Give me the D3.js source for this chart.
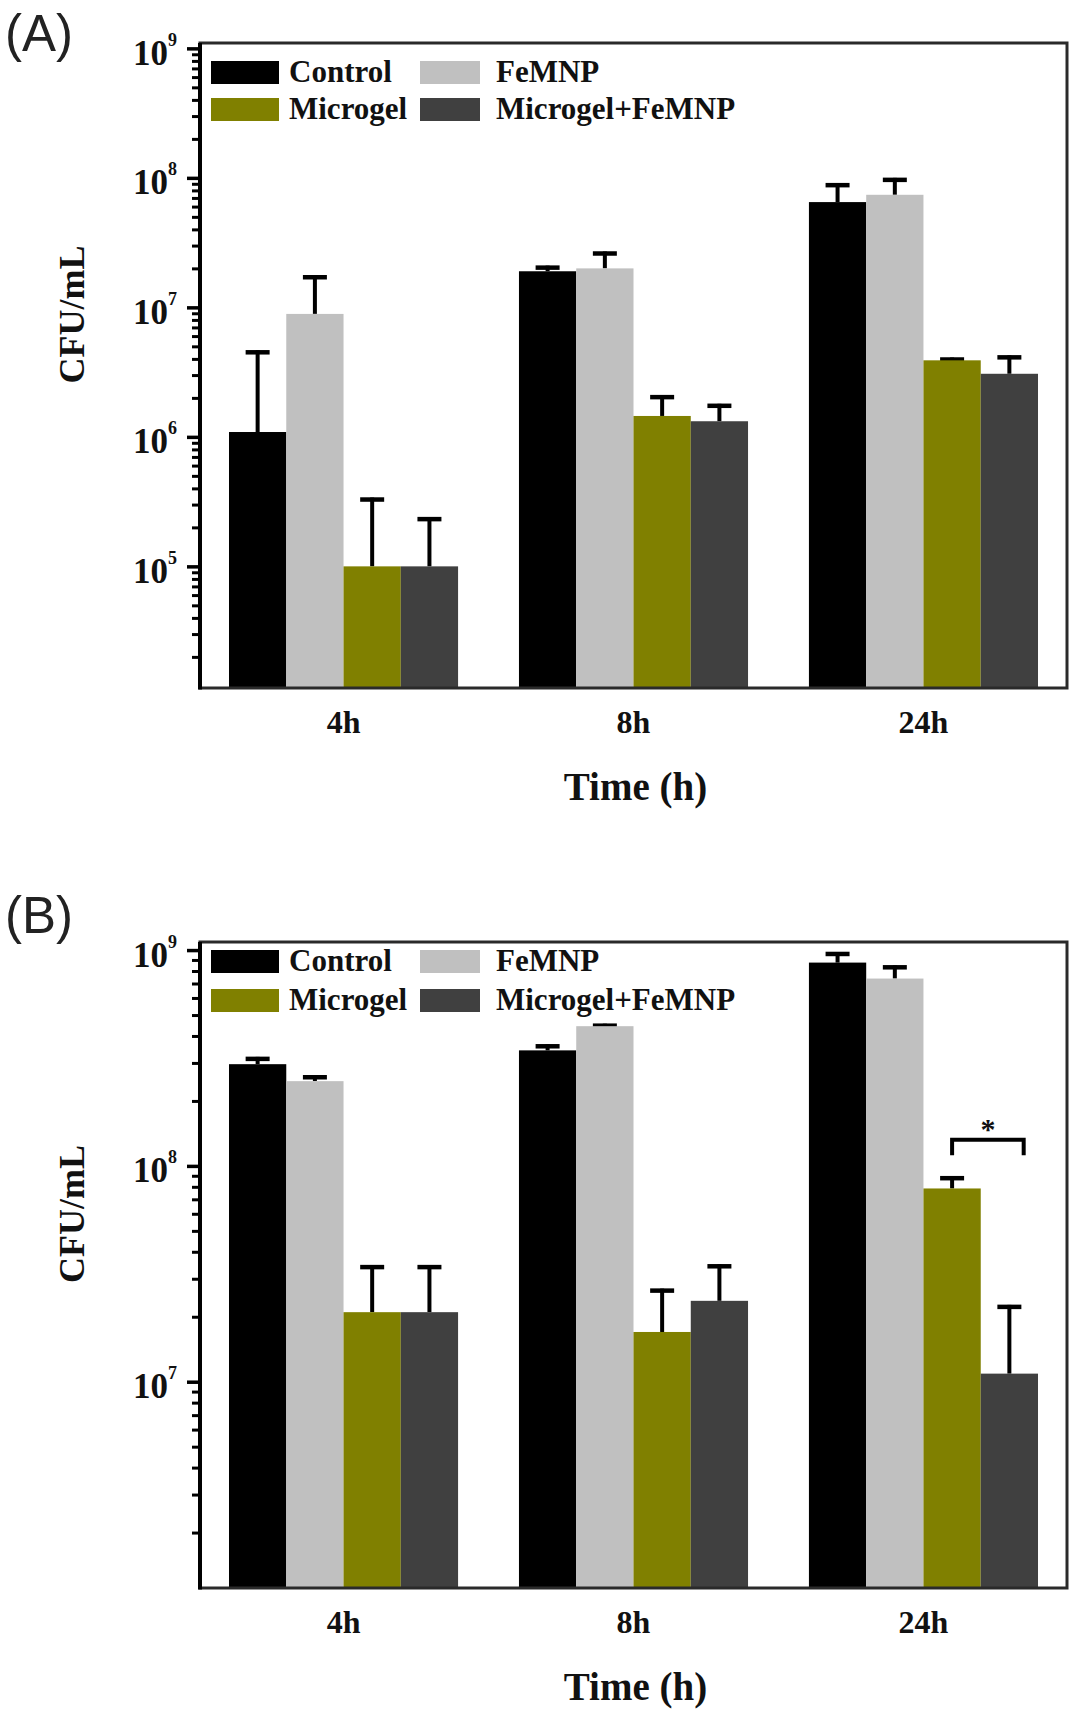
<!DOCTYPE html>
<html lang="en">
<head>
  <meta charset="UTF-8">
  <title>CFU/mL bar chart</title>
  <script src="https://d3js.org/d3.v7.min.js"></script>
  <style>
    body { margin: 0; background: #fff; }
    text { font-family: "Liberation Serif", "Times New Roman", serif; font-weight: bold; fill: #111; }
    .tag { font-family: "Liberation Sans", Arial, sans-serif; font-weight: normal; fill: #222; }
  </style>
</head>
<body>
<div id="chart"></div>
<script>

  // categories and series
  const timeLabels = ["4h", "8h", "24h"];
  const seriesNames = ["Control", "FeMNP", "Microgel", "Microgel+FeMNP"];
  const seriesColors = ["#000000", "#c0c0c0", "#808000", "#404040"];

  // panel A means and upper SD (CFU/mL)
  const aControl   = [1.09e6, 1.9e7, 6.5e7];
  const aFeMNP     = [8.9e6, 2.0e7, 7.4e7];
  const aMicrogel  = [1.0e5, 1.45e6, 3.9e6];
  const aMicroFe   = [1.0e5, 1.32e6, 3.07e6];
  const aControlSD  = [3.57e6, 2.0e6, 2.6e7];
  const aFeMNPSD    = [8.8e6, 7.0e6, 2.6e7];
  const aMicrogelSD = [2.4e5, 6.5e5, 2.0e5];
  const aMicroFeSD  = [1.4e5, 4.8e5, 1.19e6];

  // panel B means and upper SD (CFU/mL)
  const bControl   = [2.96e8, 3.43e8, 8.75e8];
  const bFeMNP     = [2.47e8, 4.44e8, 7.38e8];
  const bMicrogel  = [2.1e7, 1.7e7, 7.86e7];
  const bMicroFe   = [2.1e7, 2.37e7, 1.09e7];
  const bControlSD  = [2.4e7, 2.3e7, 1.05e8];
  const bFeMNPSD    = [1.6e7, 1.2e7, 1.12e8];
  const bMicrogelSD = [1.37e7, 1.0e7, 1.1e7];
  const bMicroFeSD  = [1.37e7, 1.13e7, 1.18e7];

  // y axis: decade tick exponents and axis extents
  const aDecades = [5, 6, 7, 8, 9];
  const bDecades = [7, 8, 9];
  const aDomain = [1.15e4, 1.1e9];
  const bDomain = [1.107e6, 1.09e9];

  // significance bracket in panel B (24h, Microgel vs Microgel+FeMNP)
  const bBracketTime = "24h";
  const bBracketPair = ["Microgel", "Microgel+FeMNP"];
  const bBracketLevel = [1.12e8, 1.32e8];
  const bBracketMark = "*";

  let width = 1081, height = 1714;
  let plotLeft = 200, plotRight = 1067;

  let svg = d3.select("#chart").append("svg")
          .attr("width", width)
          .attr("height", height)
          .style("display", "block")
          .style("background", "#fff");

  let x0 = d3.scaleBand().domain(timeLabels).range([plotLeft, plotRight])
          .paddingInner(0.21).paddingOuter(0.1);
  let x1 = d3.scaleBand().domain(seriesNames).range([0, x0.bandwidth()]).padding(0);

  function drawPanel(cfg) {
    let g = svg.append("g");
    let yScale = d3.scaleLog().domain(cfg.domain).range([cfg.bottom, cfg.top]);

    // bars
    let rows = [];
    seriesNames.forEach((s, si) => {
      timeLabels.forEach((t, ti) => {
        rows.push({time: t, series: s, si: si, value: cfg.means[si][ti], sd: cfg.sds[si][ti]});
      });
    });

    // error bars first, bars cover the lower half
    let errG = g.append("g");
    errG.selectAll("line.stem").data(rows).join("line")
            .attr("class", "stem")
            .attr("x1", d => x0(d.time) + x1(d.series) + x1.bandwidth() / 2)
            .attr("x2", d => x0(d.time) + x1(d.series) + x1.bandwidth() / 2)
            .attr("y1", d => yScale(d.value))
            .attr("y2", d => yScale(d.value + d.sd))
            .style("stroke", "#000").style("stroke-width", 4);
    errG.selectAll("line.cap").data(rows).join("line")
            .attr("class", "cap")
            .attr("x1", d => x0(d.time) + x1(d.series) + x1.bandwidth() / 2 - 12)
            .attr("x2", d => x0(d.time) + x1(d.series) + x1.bandwidth() / 2 + 12)
            .attr("y1", d => yScale(d.value + d.sd) + 2)
            .attr("y2", d => yScale(d.value + d.sd) + 2)
            .style("stroke", "#000").style("stroke-width", 4.5);

    g.append("g").selectAll("rect").data(rows).join("rect")
            .attr("x", d => x0(d.time) + x1(d.series))
            .attr("y", d => yScale(d.value))
            .attr("width", x1.bandwidth())
            .attr("height", d => cfg.bottom - yScale(d.value))
            .style("fill", d => seriesColors[d.si]);

    // minor ticks
    let minors = yScale.ticks().filter(v => Math.abs(Math.log10(v) - Math.round(Math.log10(v))) > 1e-6);
    g.append("g")
            .attr("transform", `translate(${plotLeft},0)`)
            .call(d3.axisLeft(yScale).tickValues(minors).tickSize(8).tickSizeOuter(0).tickFormat(() => ""))
            .call(a => a.select(".domain").remove())
            .call(a => a.selectAll("line").style("stroke", "#000").style("stroke-width", 3));

    // major ticks with 10^n labels
    let majorAxis = g.append("g")
            .attr("transform", `translate(${plotLeft},0)`)
            .call(d3.axisLeft(yScale).tickValues(cfg.decades.map(e => Math.pow(10, e)))
                    .tickSize(13).tickSizeOuter(0).tickFormat(() => ""));
    majorAxis.select(".domain").remove();
    majorAxis.selectAll("line").style("stroke", "#000").style("stroke-width", 3.5);
    majorAxis.selectAll(".tick text").remove();
    majorAxis.selectAll(".tick").append("text")
            .attr("x", -23)
            .attr("y", 16)
            .style("text-anchor", "end")
            .style("font-size", "35px")
            .each(function (d) {
              let t = d3.select(this);
              t.append("tspan").text("10");
              t.append("tspan").attr("dy", -19).style("font-size", "18px").text(Math.round(Math.log10(d)));
            });

    // frame
    g.append("rect")
            .attr("x", plotLeft).attr("y", cfg.top)
            .attr("width", plotRight - plotLeft).attr("height", cfg.bottom - cfg.top)
            .style("fill", "none").style("stroke", "#2a2a2a").style("stroke-width", 3);
    g.append("line")
            .attr("x1", plotLeft).attr("x2", plotLeft)
            .attr("y1", cfg.top).attr("y2", cfg.bottom + 1.5)
            .style("stroke", "#000").style("stroke-width", 4);

    // x tick labels
    g.append("g").selectAll("text").data(timeLabels).join("text")
            .attr("x", d => x0(d) + x0.bandwidth() / 2)
            .attr("y", cfg.bottom + 45)
            .style("text-anchor", "middle")
            .style("font-size", "32px")
            .text(d => d);

    // axis titles
    g.append("text")
            .attr("x", (plotLeft + plotRight) / 2 + 2)
            .attr("y", cfg.bottom + 112)
            .style("text-anchor", "middle")
            .style("font-size", "39px")
            .text("Time (h)");
    g.append("text")
            .attr("transform", `translate(84, ${(cfg.top + cfg.bottom) / 2 - 51}) rotate(-90)`)
            .style("text-anchor", "middle")
            .style("font-size", "36px")
            .text("CFU/mL");

    // panel tag
    g.append("text").attr("class", "tag")
            .attr("x", 5).attr("y", cfg.tagY)
            .style("font-size", "51px")
            .text(cfg.tag);

    // legend
    let legendCols = [211, 420], legendW = [68, 60];
    let legendG = g.append("g");
    seriesNames.forEach((s, i) => {
      let col = i % 2, row = Math.floor(i / 2);
      legendG.append("rect")
              .attr("x", legendCols[col])
              .attr("y", cfg.legendRows[row])
              .attr("width", legendW[col])
              .attr("height", 23)
              .style("fill", seriesColors[i]);
      legendG.append("text")
              .attr("x", col === 0 ? 289 : 496)
              .attr("y", cfg.legendRows[row] + 21)
              .style("font-size", "31px")
              .text(s);
    });

    return {g: g, yScale: yScale};
  }

  drawPanel({
    tag: "(A)", tagY: 51,
    top: 43, bottom: 688, domain: aDomain, decades: aDecades,
    means: [aControl, aFeMNP, aMicrogel, aMicroFe],
    sds: [aControlSD, aFeMNPSD, aMicrogelSD, aMicroFeSD],
    legendRows: [61, 98]
  });

  let panelB = drawPanel({
    tag: "(B)", tagY: 933,
    top: 942, bottom: 1588, domain: bDomain, decades: bDecades,
    means: [bControl, bFeMNP, bMicrogel, bMicroFe],
    sds: [bControlSD, bFeMNPSD, bMicrogelSD, bMicroFeSD],
    legendRows: [950, 989]
  });

  // significance bracket
  let bx1 = x0(bBracketTime) + x1(bBracketPair[0]) + x1.bandwidth() / 2;
  let bx2 = x0(bBracketTime) + x1(bBracketPair[1]) + x1.bandwidth() * 0.75;
  let yLow = panelB.yScale(bBracketLevel[0]), yHigh = panelB.yScale(bBracketLevel[1]);
  panelB.g.append("path")
          .attr("d", `M${bx1},${yLow}V${yHigh}H${bx2}V${yLow}`)
          .style("fill", "none").style("stroke", "#000").style("stroke-width", 4);
  panelB.g.append("text")
          .attr("x", (bx1 + bx2) / 2)
          .attr("y", yHigh - 1)
          .style("text-anchor", "middle")
          .style("font-size", "30px")
          .text(bBracketMark);

</script>
</body>
</html>
